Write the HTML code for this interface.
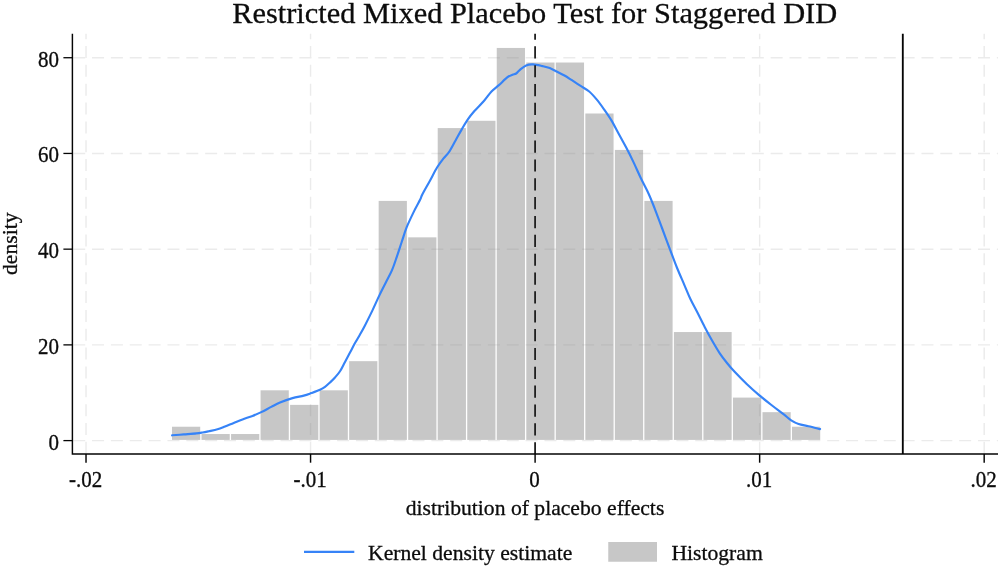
<!DOCTYPE html>
<html lang="en"><head><meta charset="utf-8"><title>Restricted Mixed Placebo Test for Staggered DID</title>
<style>
html,body{margin:0;padding:0;background:#fff;}
body{width:1000px;height:567px;overflow:hidden;}
svg{display:block;}
text{font-family:"Liberation Serif","Times New Roman",serif;fill:#0c0c0c;stroke:#0c0c0c;stroke-width:.3px;}
.t{font-size:21px;}
.u{font-size:21.65px;}
.grid{stroke:#ebebeb;stroke-width:1.45;stroke-dasharray:12 6.85;fill:none;}
.ax{stroke:#050505;stroke-width:1.45;fill:none;}
.bar{fill:#808080;fill-opacity:.44;}
</style></head><body>
<svg width="1000" height="567" viewBox="0 0 1000 567">
<rect width="1000" height="567" fill="#fff"/>
<g class="grid">
<line x1="73.2" x2="998.0" y1="440.60" y2="440.60"/>
<line x1="73.2" x2="998.0" y1="344.88" y2="344.88"/>
<line x1="73.2" x2="998.0" y1="249.16" y2="249.16"/>
<line x1="73.2" x2="998.0" y1="153.44" y2="153.44"/>
<line x1="73.2" x2="998.0" y1="57.72" y2="57.72"/>
<line y1="33.75" y2="454.0" x1="86.02" x2="86.02" stroke-dashoffset="6.6"/>
<line y1="33.75" y2="454.0" x1="310.56" x2="310.56" stroke-dashoffset="6.6"/>
<line y1="33.75" y2="454.0" x1="535.10" x2="535.10" stroke-dashoffset="6.6"/>
<line y1="33.75" y2="454.0" x1="759.64" x2="759.64" stroke-dashoffset="6.6"/>
<line y1="33.75" y2="454.0" x1="984.18" x2="984.18" stroke-dashoffset="6.6"/>
</g>
<g class="bar">
<rect x="172.00" y="426.73" width="28.22" height="13.17"/>
<rect x="201.52" y="434.02" width="28.22" height="5.88"/>
<rect x="231.05" y="434.02" width="28.22" height="5.88"/>
<rect x="260.57" y="390.31" width="28.22" height="49.59"/>
<rect x="290.10" y="404.88" width="28.22" height="35.02"/>
<rect x="319.62" y="390.31" width="28.22" height="49.59"/>
<rect x="349.14" y="361.17" width="28.22" height="78.73"/>
<rect x="378.67" y="200.92" width="28.22" height="238.98"/>
<rect x="408.19" y="237.34" width="28.22" height="202.56"/>
<rect x="437.72" y="128.08" width="28.22" height="311.82"/>
<rect x="467.24" y="120.79" width="28.22" height="319.11"/>
<rect x="496.76" y="47.95" width="28.22" height="391.95"/>
<rect x="526.29" y="62.52" width="28.22" height="377.38"/>
<rect x="555.81" y="62.52" width="28.22" height="377.38"/>
<rect x="585.34" y="113.51" width="28.22" height="326.39"/>
<rect x="614.86" y="149.93" width="28.22" height="289.97"/>
<rect x="644.38" y="200.92" width="28.22" height="238.98"/>
<rect x="673.91" y="332.04" width="28.22" height="107.86"/>
<rect x="703.43" y="332.04" width="28.22" height="107.86"/>
<rect x="732.96" y="397.59" width="28.22" height="42.31"/>
<rect x="762.48" y="412.16" width="28.22" height="27.74"/>
<rect x="792.00" y="426.73" width="28.22" height="13.17"/>
</g>
<path d="M172.10,435.30 C174.04,435.15 179.72,434.72 183.75,434.40 C187.78,434.08 193.12,433.72 196.25,433.40 C199.38,433.08 200.42,432.86 202.50,432.50 C204.58,432.14 206.25,431.78 208.75,431.25 C211.25,430.72 214.79,430.09 217.50,429.30 C220.21,428.51 222.29,427.57 225.00,426.50 C227.71,425.43 230.83,424.08 233.75,422.90 C236.67,421.72 239.38,420.57 242.50,419.40 C245.62,418.23 249.38,417.12 252.50,415.90 C255.62,414.68 258.12,413.60 261.25,412.10 C264.38,410.60 268.12,408.50 271.25,406.90 C274.38,405.30 276.46,403.97 280.00,402.50 C283.54,401.03 288.54,399.25 292.50,398.10 C296.46,396.95 300.62,396.43 303.75,395.60 C306.88,394.77 308.54,394.08 311.25,393.10 C313.96,392.12 317.71,390.78 320.00,389.75 C322.29,388.72 323.33,388.11 325.00,386.90 C326.67,385.69 328.33,384.07 330.00,382.50 C331.67,380.93 333.33,379.38 335.00,377.50 C336.67,375.62 338.33,373.85 340.00,371.25 C341.67,368.65 343.33,365.02 345.00,361.90 C346.67,358.77 348.33,355.63 350.00,352.50 C351.67,349.37 353.33,346.10 355.00,343.10 C356.67,340.10 358.38,337.37 360.00,334.50 C361.62,331.63 362.68,329.80 364.70,325.90 C366.72,322.00 369.63,316.23 372.10,311.10 C374.57,305.97 377.23,299.83 379.50,295.10 C381.77,290.37 383.63,286.82 385.70,282.70 C387.77,278.58 390.05,274.72 391.90,270.40 C393.75,266.08 395.17,261.53 396.80,256.80 C398.43,252.07 400.05,246.93 401.70,242.00 C403.35,237.07 404.63,232.35 406.70,227.20 C408.77,222.05 411.85,215.72 414.10,211.10 C416.35,206.48 418.83,202.27 420.20,199.50 C421.57,196.73 420.70,197.60 422.30,194.50 C423.90,191.40 427.32,185.43 429.80,180.90 C432.28,176.37 434.95,171.00 437.20,167.30 C439.45,163.60 441.25,161.37 443.30,158.70 C445.35,156.03 447.43,154.38 449.50,151.30 C451.57,148.22 453.63,143.90 455.70,140.20 C457.77,136.50 459.85,132.60 461.90,129.10 C463.95,125.60 465.95,122.17 468.00,119.20 C470.05,116.23 471.52,114.38 474.20,111.30 C476.88,108.22 481.22,104.00 484.10,100.70 C486.98,97.40 489.03,94.10 491.50,91.50 C493.97,88.90 496.23,87.48 498.90,85.10 C501.57,82.72 505.23,78.92 507.50,77.20 C509.77,75.48 511.05,75.37 512.50,74.75 C513.95,74.13 514.97,74.33 516.20,73.50 C517.43,72.67 518.25,71.15 519.90,69.80 C521.55,68.45 523.92,66.30 526.10,65.40 C528.28,64.50 530.30,64.28 533.00,64.40 C535.70,64.52 539.52,65.48 542.30,66.10 C545.08,66.72 547.23,67.15 549.70,68.10 C552.17,69.05 554.63,70.57 557.10,71.80 C559.57,73.03 562.03,74.10 564.50,75.50 C566.97,76.90 569.22,78.47 571.90,80.20 C574.58,81.93 577.72,84.02 580.60,85.90 C583.48,87.78 586.53,89.25 589.20,91.50 C591.87,93.75 594.13,96.43 596.60,99.40 C599.07,102.37 601.53,105.80 604.00,109.30 C606.47,112.80 608.93,116.28 611.40,120.40 C613.87,124.52 616.33,129.47 618.80,134.00 C621.27,138.53 623.73,142.87 626.20,147.60 C628.67,152.33 631.13,157.25 633.60,162.40 C636.07,167.55 638.52,173.32 641.00,178.50 C643.48,183.68 646.23,188.53 648.50,193.50 C650.77,198.47 652.35,202.55 654.60,208.30 C656.85,214.05 659.53,221.42 662.00,228.00 C664.47,234.58 666.92,241.22 669.40,247.80 C671.88,254.38 674.42,261.33 676.90,267.50 C679.38,273.67 682.05,279.55 684.30,284.80 C686.55,290.05 688.23,294.42 690.40,299.00 C692.57,303.58 694.90,307.60 697.30,312.30 C699.70,317.00 702.32,322.45 704.80,327.20 C707.28,331.95 709.73,336.48 712.20,340.80 C714.67,345.12 717.13,349.40 719.60,353.10 C722.07,356.80 724.53,359.92 727.00,363.00 C729.47,366.08 731.12,368.10 734.40,371.60 C737.68,375.10 742.58,380.08 746.70,384.00 C750.82,387.92 754.98,391.60 759.10,395.10 C763.22,398.60 767.28,401.78 771.40,405.00 C775.52,408.22 780.50,411.85 783.80,414.40 C787.10,416.95 788.73,418.70 791.20,420.30 C793.67,421.90 795.72,423.02 798.60,424.00 C801.48,424.98 804.92,425.35 808.50,426.20 C812.08,427.05 818.17,428.62 820.10,429.10" fill="none" stroke="#3683f7" stroke-width="2.15" stroke-linejoin="round" stroke-linecap="round"/>
<line x1="535.10" x2="535.10" y1="33.75" y2="454.0" stroke="#1c1c1c" stroke-width="1.75" stroke-dasharray="12.2 6.65" stroke-dashoffset="6.3"/>
<line x1="902.8" x2="902.8" y1="454.0" y2="33.75" stroke="#050505" stroke-width="1.85"/>
<g class="ax">
<path d="M72.4,33.75 V454.0 H998.0"/>
<line x1="63.4" x2="72.4" y1="440.60" y2="440.60" stroke-width="1.3"/>
<line x1="63.4" x2="72.4" y1="344.88" y2="344.88" stroke-width="1.3"/>
<line x1="63.4" x2="72.4" y1="249.16" y2="249.16" stroke-width="1.3"/>
<line x1="63.4" x2="72.4" y1="153.44" y2="153.44" stroke-width="1.3"/>
<line x1="63.4" x2="72.4" y1="57.72" y2="57.72" stroke-width="1.3"/>
<line x1="86.02" x2="86.02" y1="454.0" y2="462.7"/>
<line x1="310.56" x2="310.56" y1="454.0" y2="462.7"/>
<line x1="535.10" x2="535.10" y1="454.0" y2="462.7"/>
<line x1="759.64" x2="759.64" y1="454.0" y2="462.7"/>
<line x1="984.18" x2="984.18" y1="454.0" y2="462.7"/>
</g>
<text class="t" transform="translate(58.9,449.50) scale(1,1.07)" text-anchor="end">0</text>
<text class="t" transform="translate(58.9,353.78) scale(1,1.07)" text-anchor="end">20</text>
<text class="t" transform="translate(58.9,258.06) scale(1,1.07)" text-anchor="end">40</text>
<text class="t" transform="translate(58.9,162.34) scale(1,1.07)" text-anchor="end">60</text>
<text class="t" transform="translate(58.9,66.62) scale(1,1.07)" text-anchor="end">80</text>
<text class="t" transform="translate(85.52,487.2) scale(1,1.07)" text-anchor="middle">-.02</text>
<text class="t" transform="translate(310.06,487.2) scale(1,1.07)" text-anchor="middle">-.01</text>
<text class="t" transform="translate(534.60,487.2) scale(1,1.07)" text-anchor="middle">0</text>
<text class="t" transform="translate(759.14,487.2) scale(1,1.07)" text-anchor="middle">.01</text>
<text class="t" transform="translate(983.68,487.2) scale(1,1.07)" text-anchor="middle">.02</text>
<text x="534.7" y="23.3" text-anchor="middle" style="font-size:30.4px">Restricted Mixed Placebo Test for Staggered DID</text>
<text class="u" x="535" y="515.2" text-anchor="middle">distribution of placebo effects</text>
<text class="u" transform="translate(17.2,243.7) rotate(-90)" text-anchor="middle">density</text>
<line x1="304" x2="354.3" y1="551.9" y2="551.9" stroke="#3683f7" stroke-width="2.15"/>
<text class="u" x="368.0" y="560.3">Kernel density estimate</text>
<rect class="bar" x="608.25" y="542" width="48.75" height="19.75"/>
<text class="u" x="671.4" y="560.3">Histogram</text>
</svg>
</body></html>
